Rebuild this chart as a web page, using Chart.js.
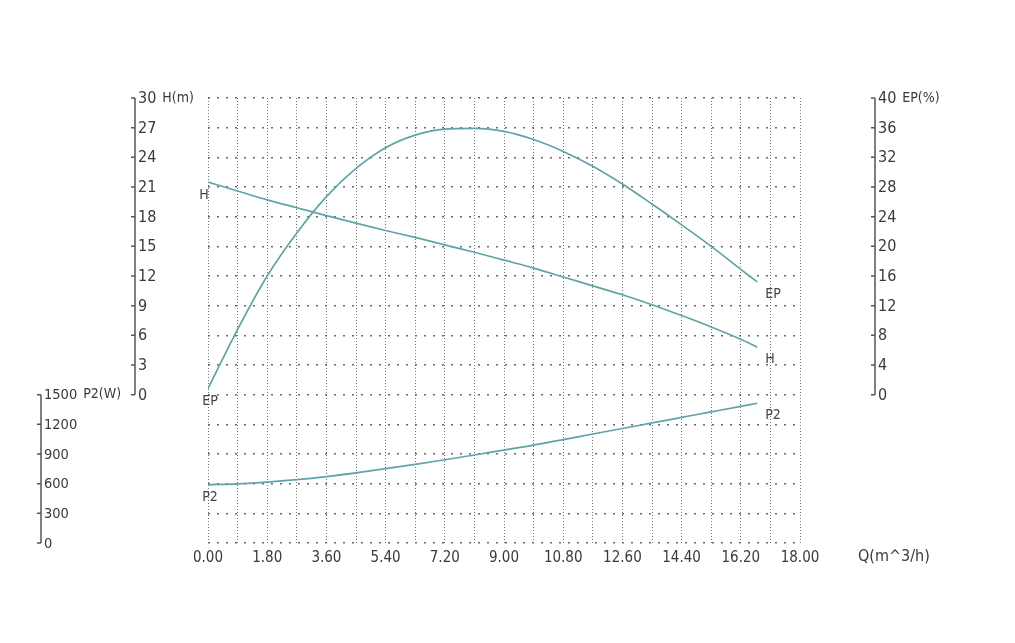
<!DOCTYPE html>
<html>
<head>
<meta charset="utf-8">
<title>Pump curve</title>
<script src="https://cdn.jsdelivr.net/npm/chart.js@4.4.1/dist/chart.umd.min.js"></script>
<style>
    html, body { margin: 0; padding: 0; background: #fff; overflow: hidden; }
    #wrap { width: 1015px; height: 643px; position: relative; }
    #pumpChart { display: block; }
</style>
</head>
<body>
<div id="wrap"><canvas id="pumpChart" width="1015" height="643"></canvas></div>
<script>
// Flow rate Q (m^3/h)
const flow = [0, 0.9, 1.8, 2.7, 3.6, 4.5, 5.4, 6.3, 7.2, 8.1, 9.0, 9.9, 10.8, 11.7, 12.6, 13.5, 14.4, 15.3, 16.2, 16.7];
// Head H (m)
const head = [21.5, 20.6, 19.7, 18.9, 18.1, 17.35, 16.6, 15.9, 15.15, 14.4, 13.6, 12.8, 11.9, 11.0, 10.1, 9.1, 8.0, 6.85, 5.6, 4.8];
// Efficiency EP (%)
const efficiency = [0.8, 8.8, 16.0, 21.8, 26.7, 30.5, 33.3, 35.0, 35.8, 35.9, 35.5, 34.4, 32.8, 30.8, 28.4, 25.7, 22.9, 20.0, 16.9, 15.2];
// Power P2 (W)
const power = [590, 598, 615, 640, 672, 710, 752, 796, 842, 890, 940, 990, 1046, 1102, 1158, 1214, 1270, 1326, 1382, 1413];

// Axis ticks
const headTicks = [0, 3, 6, 9, 12, 15, 18, 21, 24, 27, 30];
const effTicks = [0, 4, 8, 12, 16, 20, 24, 28, 32, 36, 40];
const powerTicks = [0, 300, 600, 900, 1200, 1500];

const lineColor = '#62a3a6';
const textColor = '#3a3a3a';
const fontFamily = '"Liberation Sans Narrow", "DejaVu Sans Condensed", sans-serif';

function toPoints(ys) {
    return flow.map((q, i) => ({ x: q, y: ys[i] }));
}

// Draws the three value axes away from the grid, plus titles and curve names
const sideAxes = {
    id: 'sideAxes',
    afterDraw(chart) {
        const ctx = chart.ctx;
        const s = chart.scales;
        ctx.save();
        ctx.strokeStyle = '#555';
        ctx.fillStyle = textColor;
        ctx.lineWidth = 1.5;
        ctx.textBaseline = 'middle';

        function axis(scale, ticks, x, title, size) {
            const top = scale.getPixelForValue(ticks[ticks.length - 1]);
            const bottom = scale.getPixelForValue(ticks[0]);
            ctx.beginPath();
            ctx.moveTo(x, top);
            ctx.lineTo(x, bottom);
            ticks.forEach(t => {
                const y = scale.getPixelForValue(t);
                ctx.moveTo(x - 4, y);
                ctx.lineTo(x, y);
            });
            ctx.stroke();
            ctx.font = size + 'px ' + fontFamily;
            ctx.textAlign = 'left';
            let w = 0;
            ticks.forEach(t => {
                const y = scale.getPixelForValue(t);
                ctx.fillText(String(t), x + 3, y + 1);
                if (t === ticks[ticks.length - 1]) w = ctx.measureText(String(t)).width;
            });
            ctx.font = '14px ' + fontFamily;
            ctx.fillText(title, x + 3 + w + 6, top);
        }

        axis(s.yH, headTicks, 135, 'H(m)', 16);
        axis(s.yEP, effTicks, 875, 'EP(%)', 16);
        axis(s.yP2, powerTicks, 41, 'P2(W)', 14.5);

        // Q axis title, in line with the tick labels
        ctx.font = '16px ' + fontFamily;
        ctx.textAlign = 'left';
        ctx.fillText('Q(m^3/h)', 858, chart.chartArea.bottom + 14);

        // Curve names at both ends
        ctx.font = '14px ' + fontFamily;
        ctx.fillStyle = '#444';
        chart.data.datasets.forEach((ds, i) => {
            const pts = chart.getDatasetMeta(i).data;
            const first = pts[0];
            const last = pts[pts.length - 1];
            ctx.textAlign = 'center';
            ctx.fillText(ds.label, first.x + (ds.label === 'H' ? -4 : 2), first.y + 13);
            ctx.textAlign = 'left';
            ctx.fillText(ds.label, last.x + 8, last.y + 12);
        });
        ctx.restore();
    }
};

document.addEventListener('DOMContentLoaded', function() {
    const ctx = document.getElementById('pumpChart').getContext('2d');
    new Chart(ctx, {
        type: 'line',
        data: {
            datasets: [
                { label: 'H', data: toPoints(head), yAxisID: 'yH' },
                { label: 'EP', data: toPoints(efficiency), yAxisID: 'yEP' },
                { label: 'P2', data: toPoints(power), yAxisID: 'yP2' }
            ]
        },
        options: {
            responsive: false,
            animation: false,
            devicePixelRatio: 1,
            layout: { padding: { top: 98, right: 215, left: 0, bottom: 0 } },
            elements: {
                line: { borderColor: lineColor, borderWidth: 1.7, cubicInterpolationMode: 'monotone', fill: false },
                point: { radius: 0 }
            },
            plugins: {
                legend: { display: false },
                tooltip: { enabled: false }
            },
            scales: {
                x: {
                    type: 'linear',
                    min: 0,
                    max: 18,
                    afterFit: function(scale) { scale.height = 100; },
                    ticks: {
                        stepSize: 0.9,
                        padding: 6,
                        color: textColor,
                        font: { family: fontFamily, size: 15 },
                        maxRotation: 0,
                        autoSkip: false,
                        callback: function(v) {
                            return Math.round(v / 0.9) % 2 === 0 ? v.toFixed(2) : '';
                        }
                    },
                    grid: { color: '#707070', lineWidth: 1, drawTicks: false },
                    border: { display: false, dash: [1, 2] }
                },
                yH: {
                    type: 'linear',
                    position: 'left',
                    min: -15,
                    max: 30,
                    afterFit: function(scale) { scale.width = 208; },
                    ticks: { display: false, stepSize: 3 },
                    grid: { color: '#6a6a6a', lineWidth: 1.5, drawTicks: false },
                    border: { display: false, dash: [2, 7] }
                },
                yEP: { type: 'linear', display: false, min: -20, max: 40 },
                yP2: { type: 'linear', display: false, min: 0, max: 4500 }
            }
        },
        plugins: [sideAxes]
    });
});
</script>
</body>
</html>
